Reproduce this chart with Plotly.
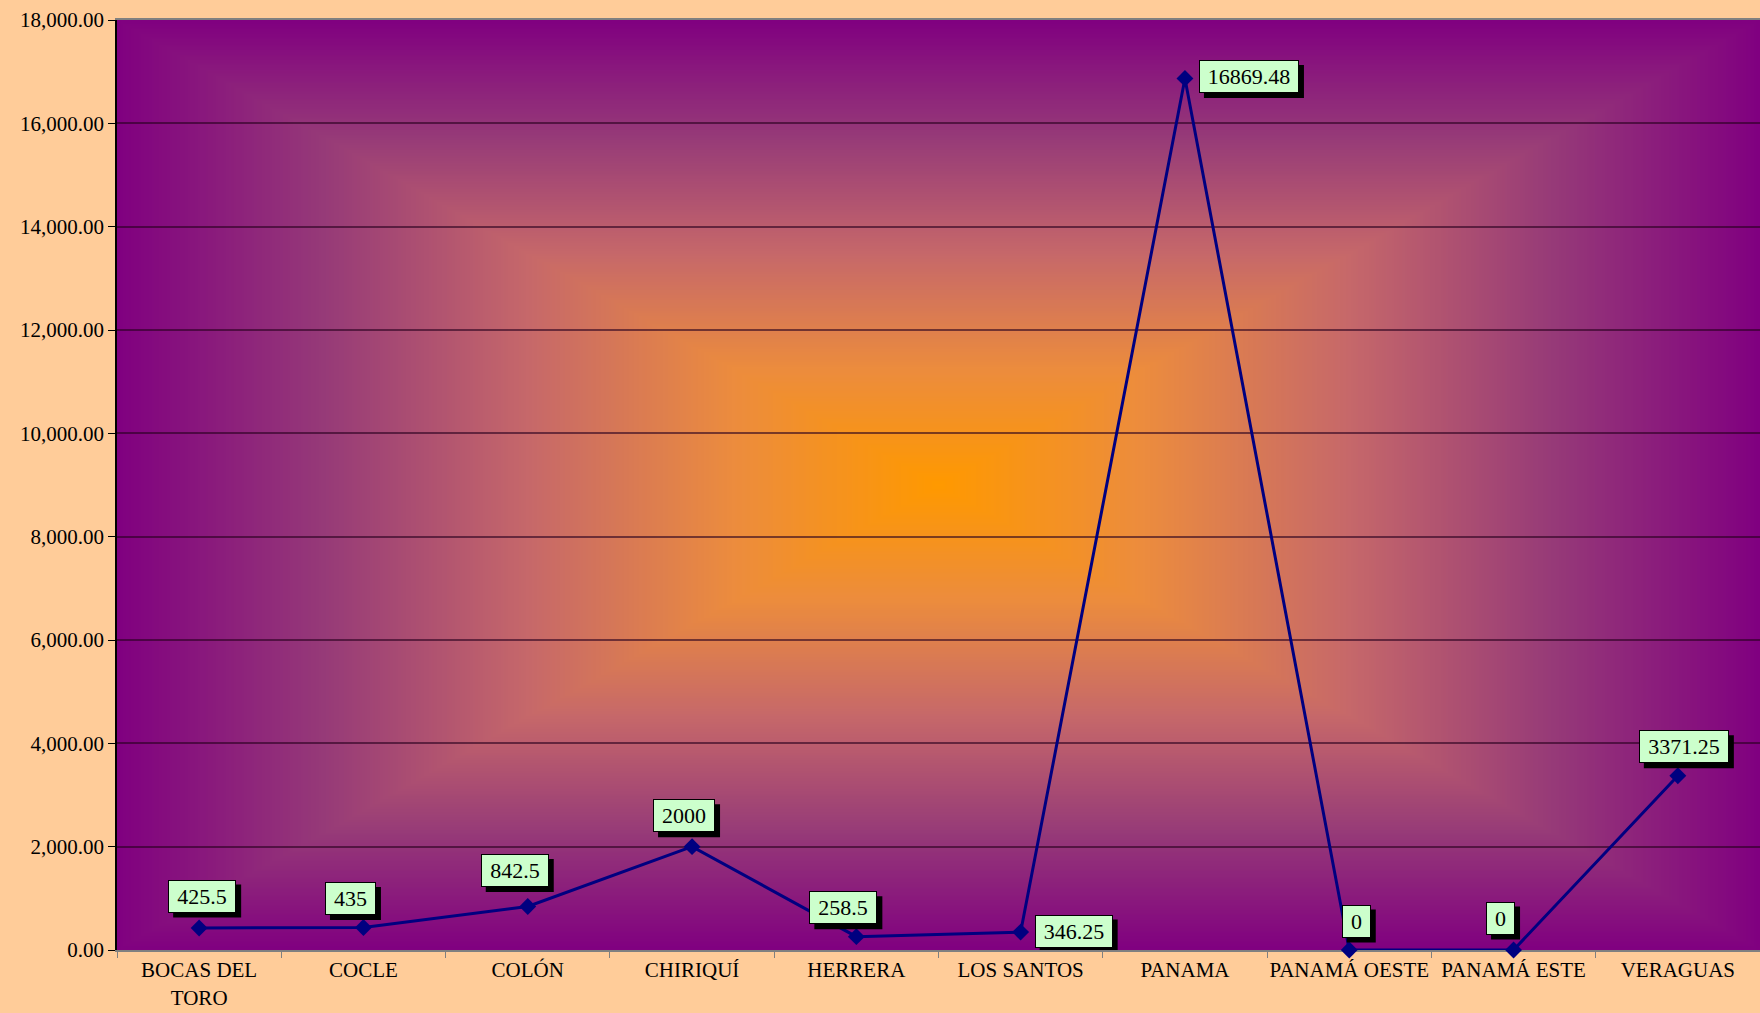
import base64
import struct
import zlib

import numpy as np
import plotly.graph_objects as go

# ---------------- data ----------------
categories = ["BOCAS DEL<br>TORO", "COCLE", "COLÓN", "CHIRIQUÍ", "HERRERA",
              "LOS SANTOS", "PANAMA", "PANAMÁ OESTE", "PANAMÁ ESTE", "VERAGUAS"]
values = [425.5, 435, 842.5, 2000, 258.5, 346.25, 16869.48, 0, 0, 3371.25]
y_ticks = [0, 2000, 4000, 6000, 8000, 10000, 12000, 14000, 16000, 18000]

# ---------------- style ----------------
label_offsets = [(3, 32), (-13, 29), (-13, 36), (-8, 31), (-13, 29),
                 (53, 1), (64, 2), (7, 29), (-13, 32), (6, 29)]
FONT = "Liberation Serif, Times New Roman, serif"
PAPER = "#FFCC99"
LINE = "#000080"
LABEL_FONT = 22
BOX_PAD_W = 16
BOX_H = 31
BORDER = 1
SHADOW = 5


def fmt(v):
    s = "%.2f" % v
    return s.rstrip("0").rstrip(".")


def text_width(s, size):
    # Times/Liberation Serif metrics: digits 0.5em, '.' and ',' 0.25em
    w = 0.0
    for ch in s:
        w += 0.25 if ch in ".," else 0.5
    return w * size


# rectangular "from center" gradient background (orange center -> purple edges)
def gradient_png(w=640, h=360):
    u = (np.arange(w) + 0.5) / w * 2 - 1
    v = (np.arange(h) + 0.5) / h * 2 - 1
    t = np.maximum(np.abs(u)[None, :], np.abs(v)[:, None])
    stops_t = [0.0, 0.25, 0.5, 0.75, 1.0]
    stops_c = [(255, 153, 0), (236, 140, 62), (198, 104, 106), (150, 58, 120), (128, 0, 128)]
    img = np.zeros((h, w, 3), dtype=np.float64)
    for k in range(3):
        img[..., k] = np.interp(t, stops_t, [c[k] for c in stops_c])
    arr = np.clip(np.round(img), 0, 255).astype(np.uint8)
    raw = b"".join(b"\x00" + arr[r].tobytes() for r in range(h))

    def chunk(tag, data):
        return (struct.pack(">I", len(data)) + tag + data
                + struct.pack(">I", zlib.crc32(tag + data) & 0xFFFFFFFF))

    png = (b"\x89PNG\r\n\x1a\n"
           + chunk(b"IHDR", struct.pack(">IIBBBBB", w, h, 8, 2, 0, 0, 0))
           + chunk(b"IDAT", zlib.compress(raw, 9))
           + chunk(b"IEND", b""))
    return "data:image/png;base64," + base64.b64encode(png).decode()


fig = go.Figure()
fig.add_trace(go.Scatter(
    x=categories, y=values, mode="lines+markers",
    line=dict(color=LINE, width=3),
    marker=dict(symbol="diamond", size=13, color=LINE),
    cliponaxis=False, hoverinfo="x+y", showlegend=False,
))

annotations = []
shapes = []
for i, (val, (dx, dy)) in enumerate(zip(values, label_offsets)):
    txt = fmt(val)
    inner_w = round(text_width(txt, LABEL_FONT) + BOX_PAD_W)
    outer_w = inner_w + 2 * BORDER
    outer_h = BOX_H + 2 * BORDER
    # drop shadow (pixel-sized rectangle anchored on the data point)
    shapes.append(dict(
        type="rect", xref="x", yref="y", xsizemode="pixel", ysizemode="pixel",
        xanchor=i, yanchor=val,
        x0=dx - outer_w / 2 + SHADOW, x1=dx + outer_w / 2 + SHADOW,
        y0=dy - outer_h / 2 - SHADOW, y1=dy + outer_h / 2 - SHADOW,
        fillcolor="black", line=dict(width=0), layer="above",
    ))
    annotations.append(dict(
        x=categories[i], y=val, text=txt, showarrow=False, xshift=dx, yshift=dy,
        width=inner_w, height=BOX_H, align="center", valign="middle",
        font=dict(family=FONT, size=LABEL_FONT, color="black"),
        bgcolor="#CCFFCC", bordercolor="black", borderwidth=BORDER, borderpad=0,
    ))

fig.update_layout(
    width=1760, height=1013,
    margin=dict(l=117, r=0, t=20, b=63),
    paper_bgcolor=PAPER,
    plot_bgcolor="rgba(0,0,0,0)",
    font=dict(family=FONT, size=21, color="black"),
    showlegend=False,
    annotations=annotations,
    shapes=shapes,
    images=[dict(source=gradient_png(), xref="paper", yref="paper", x=0, y=1,
                 sizex=1, sizey=1, xanchor="left", yanchor="top",
                 sizing="stretch", layer="below")],
    xaxis=dict(
        type="category", range=[-0.5, len(categories) - 0.5],
        showgrid=False, showline=True, linecolor="#808080", linewidth=2,
        mirror=True, ticks="outside", tickson="boundaries", ticklen=6,
        tickcolor="#808080", tickwidth=1, tickangle=0, layer="below traces",
        tickfont=dict(family=FONT, size=21, color="black"),
        fixedrange=True, zeroline=False,
    ),
    yaxis=dict(
        range=[0, 18000], tickvals=y_ticks, tickformat=",.2f",
        showgrid=True, gridcolor="rgba(40,0,30,0.6)", gridwidth=1.5,
        showline=True, linecolor="black", linewidth=1.5, layer="below traces",
        ticks="outside", ticklen=7, tickcolor="black", tickwidth=1,
        tickfont=dict(family=FONT, size=21, color="black"),
        zeroline=False, fixedrange=True,
    ),
)

fig.write_html(
    "out.html",
    config={"displayModeBar": False},
    post_script="document.body.style.margin='0px';document.body.style.overflow='hidden';",
)
